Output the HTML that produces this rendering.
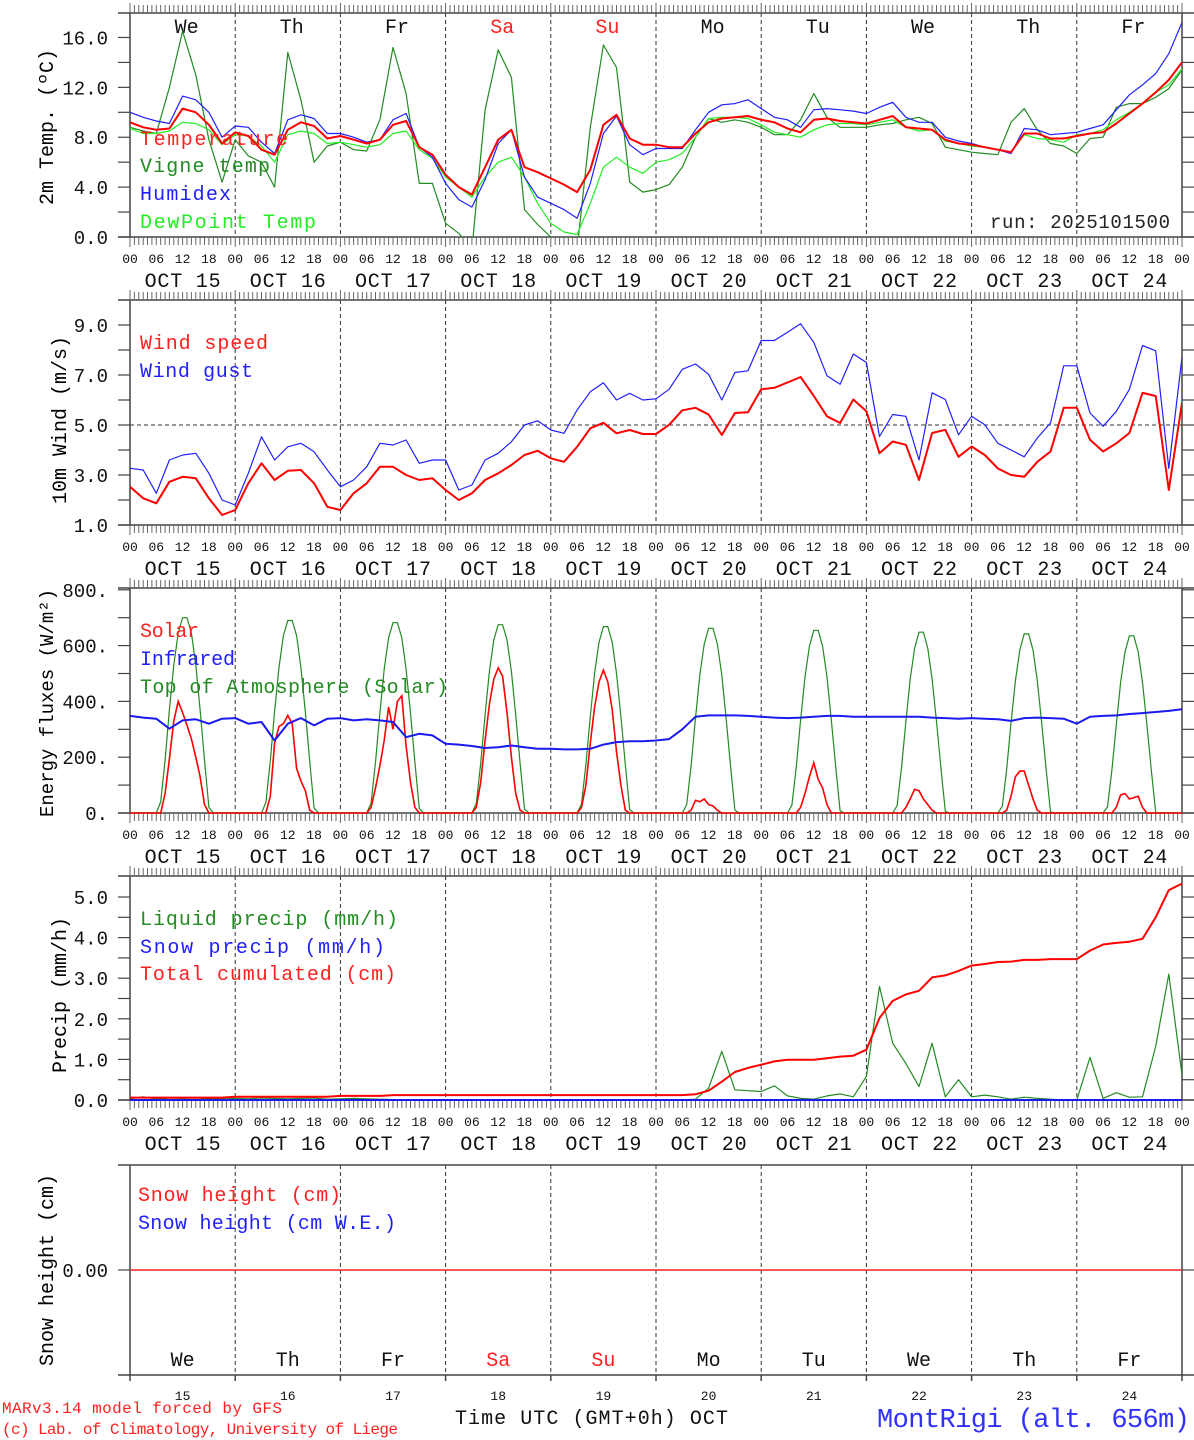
<!DOCTYPE html>
<html><head><meta charset="utf-8"><style>
html,body{margin:0;padding:0;background:#fff;}
svg{display:block;font-family:"Liberation Mono","DejaVu Sans Mono",monospace;}
</style></head><body>
<svg id="chart" width="1194" height="1440" viewBox="0 0 1194 1440" xmlns="http://www.w3.org/2000/svg">
<defs>
<clipPath id="c1"><rect x="130" y="13" width="1052" height="224"/></clipPath>
<clipPath id="c2"><rect x="130" y="300" width="1052" height="225"/></clipPath>
<clipPath id="c3"><rect x="130" y="588" width="1052" height="226"/></clipPath>
<clipPath id="c4"><rect x="130" y="876" width="1052" height="225"/></clipPath>
<clipPath id="c5"><rect x="130" y="1165" width="1052" height="210"/></clipPath>
</defs>
<g id="axes"></g>
<g id="series"></g>
<g id="texts">
<text x="0" y="0" font-size="20" text-anchor="middle" transform="translate(53,127) rotate(-90)">2m Temp. (ºC)</text>
<text x="0" y="0" font-size="20" text-anchor="middle" transform="translate(66,420) rotate(-90)">10m Wind (m/s)</text>
<text x="0" y="0" font-size="19" text-anchor="middle" transform="translate(53,703) rotate(-90)">Energy fluxes (W/m²)</text>
<text x="0" y="0" font-size="20" text-anchor="middle" transform="translate(66,995) rotate(-90)">Precip (mm/h)</text>
<text x="0" y="0" font-size="20" text-anchor="middle" transform="translate(53,1270) rotate(-90)">Snow height (cm)</text>

<text x="140" y="145" font-size="20" fill="#ff2020" textLength="148">Temperature</text>
<text x="140" y="172" font-size="20" fill="#228b22" textLength="130">Vigne temp</text>
<text x="140" y="200" font-size="20" fill="#2020ff" textLength="91">Humidex</text>
<text x="140" y="228" font-size="20" fill="#22ee22" textLength="176">DewPoint Temp</text>
<text x="990" y="228" font-size="19" fill="#222" textLength="180">run: 2025101500</text>

<text x="140" y="349" font-size="20" fill="#ff2020" textLength="128">Wind speed</text>
<text x="140" y="377" font-size="20" fill="#2020ff" textLength="113">Wind gust</text>

<text x="140" y="637" font-size="20" fill="#ff2020" textLength="59">Solar</text>
<text x="140" y="665" font-size="20" fill="#2020ff" textLength="95">Infrared</text>
<text x="140" y="693" font-size="20" fill="#228b22" textLength="308">Top of Atmosphere (Solar)</text>

<text x="140" y="925" font-size="20" fill="#228b22" textLength="258">Liquid precip (mm/h)</text>
<text x="140" y="953" font-size="20" fill="#2020ff" textLength="245">Snow precip (mm/h)</text>
<text x="140" y="980" font-size="20" fill="#ff2020" textLength="256">Total cumulated (cm)</text>

<text x="138" y="1201" font-size="20" fill="#ff2020" textLength="203">Snow height (cm)</text>
<text x="138" y="1229" font-size="20" fill="#2020ff" textLength="258">Snow height (cm W.E.)</text>

<text x="2" y="1413" font-size="16" fill="#ff2020" textLength="280">MARv3.14 model forced by GFS</text>
<text x="2" y="1434" font-size="16" fill="#ff2020" textLength="396">(c) Lab. of Climatology, University of Liege</text>
<text x="455" y="1424" font-size="20" fill="#111" textLength="273">Time UTC (GMT+0h) OCT</text>
<text x="877" y="1427" font-size="27" fill="#3030ff" textLength="313">MontRigi (alt. 656m)</text>
</g>
</svg>
<script>
// ---------- data ----------
const days = [15,16,17,18,19,20,21,22,23,24];
const dayNames = ['We','Th','Fr','Sa','Su','Mo','Tu','We','Th','Fr'];
const hourLabels = ['00','06','12','18'];
// 3-hourly series, 81 points from Oct 15 00 UTC
const temperature = [9.2,8.8,8.6,8.7,10.3,10.0,9.0,7.5, 8.4,8.1,7.0,6.6,8.6,9.2,8.9,7.9, 8.1,7.8,7.5,7.8,9.0,9.3,7.2,6.6, 5.0,4.0,3.4,5.6,7.8,8.6,5.6,5.2, 4.7,4.2,3.6,5.4,9.0,9.8,7.9,7.4, 7.4,7.2,7.2,8.3,9.2,9.5,9.6,9.7, 9.4,9.2,8.7,8.4,9.4,9.5,9.3,9.2, 9.1,9.4,9.7,8.8,8.7,8.6,7.8,7.5, 7.4,7.2,7.0,6.8,8.3,8.3,7.9,7.9, 8.1,8.3,8.4,9.1,9.9,10.7,11.6,12.6, 14.0];
const humidex = [10.0,9.6,9.3,9.1,11.3,11.0,10.0,8.0, 8.9,8.8,7.6,6.7,9.4,9.8,9.5,8.3, 8.3,8.0,7.6,7.8,9.4,9.9,7.2,6.4, 4.3,3.0,2.4,4.6,7.5,8.6,4.8,3.2, 2.7,2.2,1.5,4.3,8.3,9.7,7.4,6.6, 7.1,7.1,7.1,8.6,10.0,10.6,10.7,11.0, 10.3,9.6,9.4,8.8,10.2,10.3,10.2,10.1, 9.9,10.4,10.8,9.6,9.2,9.2,8.0,7.7, 7.5,7.2,7.0,6.7,8.7,8.6,8.2,8.3, 8.4,8.7,9.0,10.2,11.4,12.2,13.1,14.7, 17.2];
const dewPoint = [8.7,8.3,8.3,8.5,9.2,9.1,8.6,7.4, 8.2,8.1,7.3,6.0,8.2,8.5,8.3,7.5, 7.6,7.4,7.2,7.4,8.3,8.5,7.0,6.3, 4.8,4.0,3.2,4.8,6.0,6.4,4.8,2.7, 1.1,0.4,0.2,2.7,5.6,6.4,5.6,5.1, 6.0,6.2,6.7,8.0,9.5,9.6,9.6,9.5, 9.0,8.4,8.2,8.0,8.6,9.0,9.1,9.1, 9.0,9.2,9.4,8.8,8.5,8.6,7.7,7.5, 7.3,7.2,7.0,6.8,8.2,7.9,7.8,7.6, 8.2,8.3,8.6,9.4,10.0,10.7,11.6,12.2, 13.5];
const vigneTemp = [8.8,8.5,8.3,12.0,16.5,13.0,7.8,4.4, 7.8,6.5,6.0,4.0,14.8,11.0,6.0,7.3, 7.6,7.0,6.9,9.4,15.2,11.5,4.3,4.3, 1.1,0.3,-1,10.2,15.0,12.8,2.2,1.0, 0,-1,-1,8.8,15.4,13.6,4.4,3.6, 3.8,4.2,5.6,8.0,9.5,9.2,9.4,9.2, 8.8,8.2,8.2,9.4,11.5,9.6,8.8,8.8, 8.8,9.0,9.1,9.4,9.6,9.1,7.2,7.0, 6.8,6.7,6.6,9.2,10.3,8.6,7.5,7.3, 6.7,7.9,8.0,10.4,10.7,10.7,11.2,11.9, 13.4];
const windSpeed = [2.53,2.07,1.87,2.73,2.93,2.87,2.07,1.4, 1.6,2.67,3.47,2.8,3.17,3.2,2.67,1.73, 1.6,2.27,2.67,3.33,3.33,3.0,2.8,2.87, 2.4,2.0,2.27,2.8,3.07,3.4,3.8,3.97, 3.67,3.53,4.13,4.87,5.09,4.67,4.8,4.64, 4.64,5.01,5.59,5.69,5.42,4.6,5.48,5.51, 6.43,6.49,6.7,6.92,6.16,5.35,5.08,6.02, 5.55,3.87,4.34,4.21,2.8,4.68,4.81,3.73, 4.14,3.8,3.26,3.0,2.93,3.53,3.94,5.69, 5.69,4.41,3.94,4.27,4.68,6.29,6.16,2.4, 5.89];
const windGust = [3.27,3.2,2.27,3.6,3.8,3.87,3.07,2.0, 1.8,3.07,4.53,3.6,4.13,4.27,3.93,3.2, 2.53,2.8,3.33,4.27,4.2,4.4,3.47,3.6, 3.6,2.4,2.6,3.6,3.87,4.33,5.0,5.17, 4.8,4.67,5.6,6.33,6.69,6.0,6.27,6.0, 6.05,6.43,7.23,7.44,7.03,6.0,7.1,7.17, 8.38,8.38,8.71,9.05,8.31,6.97,6.63,7.84, 7.5,4.54,5.42,5.35,3.6,6.29,6.02,4.61, 5.35,5.01,4.27,4.0,3.73,4.48,5.08,7.37, 7.37,5.48,4.95,5.55,6.43,8.18,7.97,3.26, 7.71];
const infrared = [348,342,338,302,332,336,320,338, 340,320,326,260,320,340,314,338, 340,332,336,332,326,272,284,278, 248,245,240,233,236,242,236,230, 230,228,228,230,245,254,257,257, 260,265,300,345,350,350,350,348, 345,342,340,342,345,348,348,345, 345,345,345,345,345,342,340,338, 340,338,336,330,340,342,340,338, 320,345,348,350,355,358,362,366, 372];
// hourly 06..18 UTC for each day
const toaDaily = [
 [0,40,190,370,530,645,700,700,645,530,370,190,20],
 [0,38,186,364,522,636,690,690,636,522,364,186,18],
 [0,36,182,358,515,628,682,682,628,515,358,182,16],
 [0,34,178,352,508,620,675,675,620,508,352,178,14],
 [0,32,174,346,500,612,668,668,612,500,346,174,12],
 [0,30,170,340,494,605,662,662,605,494,340,170,10],
 [0,28,166,334,487,598,655,655,598,487,334,166,8],
 [0,26,162,328,480,590,648,648,590,480,328,162,6],
 [0,24,158,322,474,584,642,642,584,474,322,158,4],
 [0,22,154,316,468,577,635,635,577,468,316,154,2]];
const solarDaily = [
 [0,0,70,194,330,400,360,314,266,200,130,30,0],
 [0,0,60,250,310,320,350,320,160,115,80,10,0],
 [0,20,90,170,260,380,300,400,420,240,110,20,0],
 [0,20,110,260,390,480,520,490,360,200,70,10,0],
 [0,20,100,250,380,470,512,470,370,220,100,10,0],
 [0,0,10,45,40,50,30,25,10,0,0,0,0],
 [0,0,0,20,70,130,180,120,90,30,0,0,0],
 [0,0,0,20,50,85,80,50,30,10,0,0,0],
 [0,0,10,60,130,150,150,100,50,10,0,0,0],
 [0,0,0,20,65,70,50,55,60,20,0,0,0]];
const liquidPrecip = [0.03,0.08,0.02,0.05,0.04,0.05,0.03,0.02, 0.04,0.03,0.05,0.04,0.03,0.04,0.05,0.02, 0.03,0.04,0.03,0.02,0.01,0.01,0.01,0.01, 0.01,0.01,0.01,0.01,0.01,0.01,0.01,0.01, 0.01,0.01,0.01,0.01,0.01,0.01,0.01,0.01, 0,0,0,0.02,0.29,1.2,0.25,0.23, 0.21,0.35,0.1,0.04,0.02,0.1,0.15,0.08, 0.58,2.8,1.4,0.9,0.33,1.4,0.08,0.5, 0.08,0.12,0.08,0.02,0.07,0.04,0.02,0, 0,1.05,0.04,0.18,0.07,0.08,1.32,3.1, 0.62];
const snowPrecip = new Array(81).fill(0);
const totalCumul = [0.06,0.06,0.06,0.06,0.06,0.06,0.06,0.06, 0.08,0.08,0.08,0.08,0.08,0.08,0.08,0.08, 0.1,0.1,0.1,0.1,0.12,0.12,0.12,0.12, 0.12,0.12,0.12,0.12,0.12,0.12,0.12,0.12, 0.12,0.12,0.12,0.12,0.12,0.12,0.12,0.12, 0.12,0.12,0.12,0.14,0.23,0.45,0.69,0.79, 0.87,0.95,0.99,0.99,0.99,1.03,1.07,1.09, 1.24,2.02,2.44,2.6,2.69,3.02,3.07,3.18, 3.31,3.35,3.4,3.41,3.45,3.45,3.47,3.47, 3.47,3.68,3.83,3.87,3.9,3.97,4.5,5.17, 5.33];
const snowHeight = new Array(81).fill(0);

// ---------- scales ----------
const NS='http://www.w3.org/2000/svg';
const X0=130, X1=1182;
const xh = h => X0 + h*(X1-X0)/240;
const yT = v => 237 - v*12.47;
const yW = v => 525 - (v-1)*25;
const yE = v => 813 - v*0.279;
const yP = v => 1100 - v*40.6;
const yS = v => 1270 - v*50;
const axes=document.getElementById('axes'), series=document.getElementById('series');
function mk(tag, attrs, parent){const e=document.createElementNS(NS,tag);for(const k in attrs)e.setAttribute(k,attrs[k]);(parent||axes).appendChild(e);return e;}

function line3h(arr, yf, color, w, clip, name){
  const pts=arr.map((v,i)=>xh(i*3).toFixed(1)+','+yf(v).toFixed(1)).join(' ');
  const p=mk('polyline',{points:pts,fill:'none',stroke:color,'stroke-width':w,'clip-path':'url(#'+clip+')','stroke-linejoin':'round'},series);
  
  
}
function lineDaily(arr2, yf, color, w, clip, name){
  const pts=[[0,0]];
  arr2.forEach((d,di)=>{
    pts.push([di*24+5,0]);
    d.forEach((v,k)=>pts.push([di*24+6+k,v]));
    pts.push([di*24+19,0]);
  });
  pts.push([240,0]);
  const p=mk('polyline',{points:pts.map(q=>xh(q[0]).toFixed(1)+','+yf(q[1]).toFixed(1)).join(' '),fill:'none',stroke:color,'stroke-width':w,'clip-path':'url(#'+clip+')'},series);
  
  
}

// ---------- panel frames ----------
const panels=[
 {top:13,bot:237,yf:yT,ticks:[0,2,4,6,8,10,12,14,16],labels:[[0,'0.0'],[4,'4.0'],[8,'8.0'],[12,'12.0'],[16,'16.0']],hourly:true,name:'temp'},
 {top:300,bot:525,yf:yW,ticks:[1,2,3,4,5,6,7,8,9],labels:[[1,'1.0'],[3,'3.0'],[5,'5.0'],[7,'7.0'],[9,'9.0']],hourly:true,name:'wind'},
 {top:588,bot:813,yf:yE,ticks:[0,100,200,300,400,500,600,700,800],labels:[[0,'0.'],[200,'200.'],[400,'400.'],[600,'600.'],[800,'800.']],hourly:true,name:'energy'},
 {top:876,bot:1100,yf:yP,ticks:[0,0.5,1,1.5,2,2.5,3,3.5,4,4.5,5],labels:[[0,'0.0'],[1,'1.0'],[2,'2.0'],[3,'3.0'],[4,'4.0'],[5,'5.0']],hourly:true,name:'precip'},
 {top:1165,bot:1375,yf:yS,ticks:[0],labels:[[0,'0.00']],hourly:false,name:'snow'}
];
panels.forEach((P,pi)=>{
  const g=mk('g',{});
  
  
  for(let d=1; d<10; d++){
    mk('line',{x1:xh(d*24),x2:xh(d*24),y1:P.top,y2:P.bot,stroke:'#333','stroke-width':1,'stroke-dasharray':'4,3'},g);
  }
  mk('line',{x1:118,x2:1194,y1:P.top,y2:P.top,stroke:'#444','stroke-width':1.5},g);
  mk('line',{x1:118,x2:1194,y1:P.bot,y2:P.bot,stroke:'#444','stroke-width':1.5},g);
  mk('line',{x1:X0,x2:X0,y1:P.top,y2:P.bot+(P.hourly?0:6),stroke:'#444','stroke-width':1.5},g);
  mk('line',{x1:X1,x2:X1,y1:P.top,y2:P.bot+(P.hourly?0:6),stroke:'#444','stroke-width':1.5},g);
  if(P.hourly){
    let d='';
    for(let h=0;h<=240;h++){const x=xh(h).toFixed(1);const L=(h%24===0)?10:8;d+='M'+x+' '+P.top+'v-'+L+'M'+x+' '+P.bot+'v'+L;}
    mk('path',{d:d,stroke:'#666','stroke-width':1,fill:'none'},g);
    for(let dd=0; dd<10; dd++){
      hourLabels.forEach((lab,k)=>{
        const t=mk('text',{x:xh(dd*24+k*6),y:P.bot+26,'font-size':13,'text-anchor':'middle',fill:'#111'},g);t.textContent=lab;
        
        
      });
      const t=mk('text',{x:xh(dd*24+12),y:P.bot+50,'font-size':20,'text-anchor':'middle',fill:'#111',textLength:76},g);t.textContent='OCT '+days[dd];
      
      
    }
    const t=mk('text',{x:xh(240),y:P.bot+26,'font-size':13,'text-anchor':'middle',fill:'#111'},g);t.textContent='00';
    
    
  } else {
    for(let d=1; d<10; d++) mk('line',{x1:xh(d*24),x2:xh(d*24),y1:P.bot,y2:P.bot+6,stroke:'#444','stroke-width':1.5},g);
  }
  P.ticks.forEach(v=>{
    const y=P.yf(v);
    mk('line',{x1:118,x2:X0,y1:y,y2:y,stroke:'#444','stroke-width':1.2},g);
    mk('line',{x1:X1,x2:1194,y1:y,y2:y,stroke:'#444','stroke-width':1.2},g);
  });
  P.labels.forEach(([v,s])=>{
    const t=mk('text',{x:108,y:P.yf(v)+7,'font-size':19,'text-anchor':'end',fill:'#111'},g);t.textContent=s;
    
    
  });
});
mk('line',{x1:X0,x2:X1,y1:yW(5),y2:yW(5),stroke:'#333','stroke-width':1,'stroke-dasharray':'4,3'});
dayNames.forEach((n,i)=>{
  const c=(n==='Sa'||n==='Su')?'#ff2020':'#111';
  const t=mk('text',{x:xh(i*24+12)+4,y:33,'font-size':20,'text-anchor':'middle',fill:c});t.textContent=n;
  
  
  const t2=mk('text',{x:xh(i*24+12),y:1366,'font-size':20,'text-anchor':'middle',fill:c});t2.textContent=n;
  
  
  const t3=mk('text',{x:xh(i*24+12),y:1400,'font-size':13,'text-anchor':'middle',fill:'#111'});t3.textContent=days[i];
  
  
});

// ---------- series ----------
line3h(vigneTemp, yT, '#228b22', 1.2, 'c1', 'vigne-temp-line');
line3h(dewPoint, yT, '#22ee22', 1.2, 'c1', 'dewpoint-line');
line3h(humidex, yT, '#2020ff', 1.2, 'c1', 'humidex-line');
line3h(temperature, yT, '#ff0000', 2, 'c1', 'temperature-line');
line3h(windGust, yW, '#2020ff', 1.2, 'c2', 'wind-gust-line');
line3h(windSpeed, yW, '#ff0000', 2, 'c2', 'wind-speed-line');
lineDaily(toaDaily, yE, '#228b22', 1.2, 'c3', 'toa-solar-line');
lineDaily(solarDaily, yE, '#ff0000', 1.6, 'c3', 'solar-line');
line3h(infrared, yE, '#1a1aee', 2, 'c3', 'infrared-line');
line3h(liquidPrecip, yP, '#228b22', 1.2, 'c4', 'liquid-precip-line');
line3h(snowPrecip, yP, '#1a1aee', 2, 'c4', 'snow-precip-line');
line3h(totalCumul, yP, '#ff0000', 2, 'c4', 'total-cumulated-line');
line3h(snowHeight, yS, '#ff2020', 1.5, 'c5', 'snow-height-line');
</script>
</body></html>
